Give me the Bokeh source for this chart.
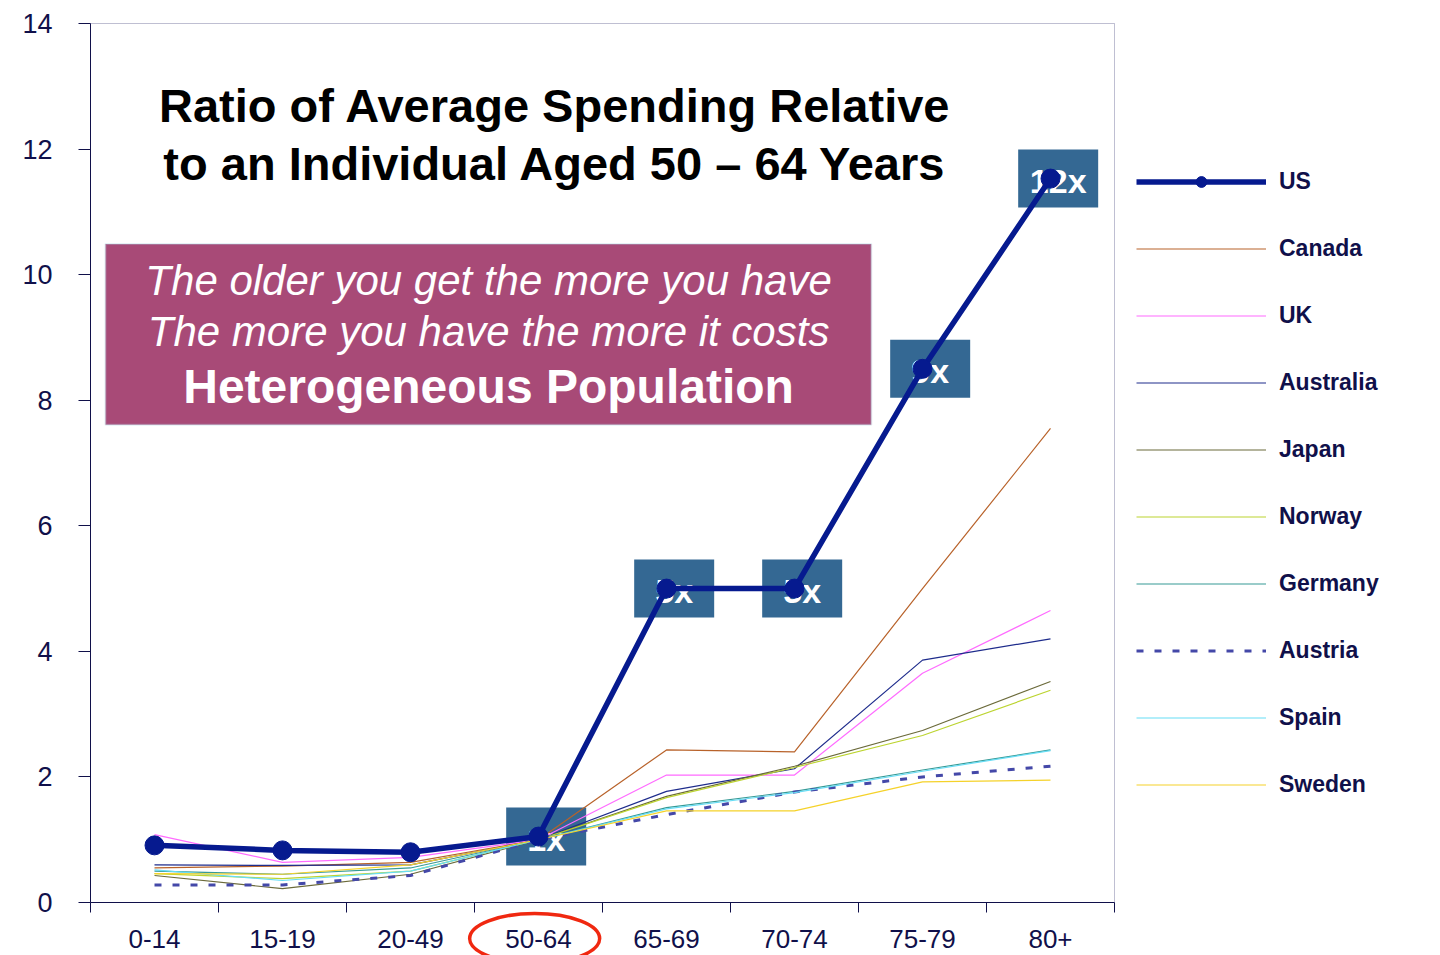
from bokeh.plotting import figure
from bokeh.models import (FixedTicker, Legend, LegendItem, BoxAnnotation,
                          ColumnDataSource, Range1d)
from bokeh.core.properties import value
from bokeh.embed import file_html
from bokeh.resources import INLINE

# ---------------- data ----------------
age_groups = ["0-14", "15-19", "20-49", "50-64", "65-69", "70-74", "75-79", "80+"]
us        = [0.91, 0.83, 0.80, 1.05, 5.0, 5.0, 8.5, 11.53]
canada    = [0.55, 0.58, 0.64, 1.0, 2.43, 2.40, 5.0, 7.55]
uk        = [1.08, 0.64, 0.72, 1.0, 2.03, 2.03, 3.65, 4.65]
australia = [0.60, 0.59, 0.60, 1.0, 1.77, 2.13, 3.86, 4.20]
japan     = [0.43, 0.22, 0.45, 1.0, 1.69, 2.17, 2.74, 3.52]
norway    = [0.46, 0.38, 0.50, 1.0, 1.67, 2.15, 2.66, 3.38]
germany   = [0.50, 0.45, 0.55, 1.0, 1.51, 1.77, 2.11, 2.43]
austria   = [0.28, 0.28, 0.43, 1.0, 1.40, 1.76, 2.00, 2.17]
spain     = [0.52, 0.35, 0.50, 1.0, 1.49, 1.75, 2.09, 2.42]
sweden    = [0.46, 0.45, 0.60, 1.0, 1.46, 1.46, 1.92, 1.95]

ratio_labels = ["1x", "5x", "5x", "9x", "12x"]
ratio_groups = ["50-64", "65-69", "70-74", "75-79", "80+"]
highlight_group = "50-64"

y_ticks = [0, 2, 4, 6, 8, 10, 12, 14]

# ---------------- layout (pixels) ----------------
W, H = 1440, 955
PL, PR, PT, PB = 90, 1114, 23, 902          # plot-area box in pixels
n = len(age_groups)
ymax = 14
xu = (PR - PL) / n                           # px per category
yu = (PB - PT) / ymax                        # px per y unit

NAVY = "#10104A"
FONT = "Liberation Sans"

x_pos = [i + 0.5 for i in range(n)]

p = figure(width=W, height=H,
           x_range=Range1d(-PL / xu, (W - PL) / xu),
           y_range=Range1d(-(H - PB) / yu, PB / yu),
           output_backend="svg", toolbar_location=None,
           min_border=0)
p.background_fill_color = "white"
p.border_fill_color = "white"
p.outline_line_color = None
p.xgrid.visible = False
p.ygrid.visible = False

# y axis fixed at x = 0
p.yaxis.fixed_location = 0
p.yaxis.bounds = (0, ymax)
p.yaxis.ticker = FixedTicker(ticks=y_ticks, minor_ticks=[])
p.yaxis.axis_line_color = NAVY
p.yaxis.major_tick_line_color = NAVY
p.yaxis.major_tick_out = 12
p.yaxis.major_tick_in = 0
p.yaxis.major_label_standoff = 26
p.yaxis.major_label_text_font = FONT
p.yaxis.major_label_text_font_size = "27px"
p.yaxis.major_label_text_color = NAVY

# x axis fixed at y = 0: boundaries as minor ticks, labels at centres
p.xaxis.fixed_location = 0
p.xaxis.bounds = (0, n)
p.xaxis.ticker = FixedTicker(ticks=x_pos, minor_ticks=list(range(0, n + 1)))
p.xaxis.major_label_overrides = {x: g for x, g in zip(x_pos, age_groups)}
p.xaxis.axis_line_color = NAVY
p.xaxis.major_tick_out = 0
p.xaxis.major_tick_in = 0
p.xaxis.minor_tick_out = 10
p.xaxis.minor_tick_in = 0
p.xaxis.minor_tick_line_color = NAVY
p.xaxis.major_label_standoff = 17
p.xaxis.major_label_text_font = FONT
p.xaxis.major_label_text_font_size = "26px"
p.xaxis.major_label_text_color = NAVY

# plot-area frame (top/right edges)
p.add_layout(BoxAnnotation(left=0, right=n, bottom=0, top=ymax,
                           fill_alpha=0, line_color="#2A2A6A", line_width=1,
                           level="underlay"))

# purple text box
p.add_layout(BoxAnnotation(left=0.117, right=6.10, bottom=7.61, top=10.49,
                           fill_color="#A84A77", fill_alpha=1.0,
                           line_color="#A8D2E2", line_width=2, level="underlay"))

# title
p.text(x=[3.63, 3.63], y=[12.69, 11.77],
       text=["Ratio of Average Spending Relative",
             "to an Individual Aged 50 \u2013 64 Years"],
       text_font=value(FONT), text_font_size="47px", text_font_style="bold",
       text_color="black", text_align="center", text_baseline="middle")

# box texts
p.text(x=[3.11, 3.11], y=[9.9, 9.1],
       text=["The older you get the more you have",
             "The more you have the more it costs"],
       text_font=value(FONT), text_font_size="42px", text_font_style="italic",
       text_color="white", text_align="center", text_baseline="middle")
p.text(x=[3.11], y=[8.22], text=["Heterogeneous Population"],
       text_font=value(FONT), text_font_size="48px", text_font_style="bold",
       text_color="white", text_align="center", text_baseline="middle")

# ratio label boxes
idx = [age_groups.index(g) for g in ratio_groups]
rx = [x_pos[i] + 0.06 for i in idx]
ry = [us[i] for i in idx]
lab_src = ColumnDataSource(dict(x=rx, y=ry, t=ratio_labels))
p.rect(x="x", y="y", width=80, height=58, width_units="screen",
       height_units="screen", source=lab_src, fill_color="#346893",
       line_color=None)
p.text(x="x", y="y", text="t", source=lab_src, text_font=value(FONT),
       text_font_size="34px", text_font_style="bold", text_color="white",
       text_align="center", text_baseline="middle", y_offset=2)

# other countries
others = [
    ("Canada", canada, "#B8622A", "solid", 1.2),
    ("UK", uk, "#FF6BFF", "solid", 1.2),
    ("Australia", australia, "#1E2C8C", "solid", 1.2),
    ("Japan", japan, "#6B6A3A", "solid", 1.2),
    ("Norway", norway, "#BCD430", "solid", 1.2),
    ("Germany", germany, "#379A96", "solid", 1.2),
    ("Austria", austria, "#4448A8", "7 11", 3),
    ("Spain", spain, "#66DDF5", "solid", 1.2),
    ("Sweden", sweden, "#F5D22A", "solid", 1.2),
]
other_renderers = {}
for name, vals, col, dash, w in others:
    r = p.line(x_pos, vals, line_color=col, line_width=w, line_dash=dash)
    other_renderers[name] = r

# US
us_line = p.line(x_pos, us, line_color="#061A8F", line_width=5.5)
us_pts = p.scatter(x_pos, us, marker="circle", size=19,
                   fill_color="#061A8F", line_color="#061A8F")

items = [LegendItem(label="US", renderers=[us_line, us_pts])]
for name, *_ in others:
    items.append(LegendItem(label=name, renderers=[other_renderers[name]]))

legend = Legend(items=items, location=(1136, 157.5), orientation="vertical",
                glyph_width=130, glyph_height=27, label_height=20,
                label_standoff=13, spacing=40, padding=0, margin=0,
                border_line_color=None, background_fill_alpha=0,
                label_text_font=FONT, label_text_font_size="23px",
                label_text_font_style="bold", label_text_color=NAVY)
p.add_layout(legend, "center")

# red ellipse around the highlighted age-group label
hx = x_pos[age_groups.index(highlight_group)] - 0.03
p.ellipse(x=[hx], y=[-36 / yu], width=130, height=50,
          width_units="screen", height_units="screen",
          fill_alpha=0, line_color="#F02810", line_width=3.5)

open("out.html", "w").write(file_html(p, INLINE))
